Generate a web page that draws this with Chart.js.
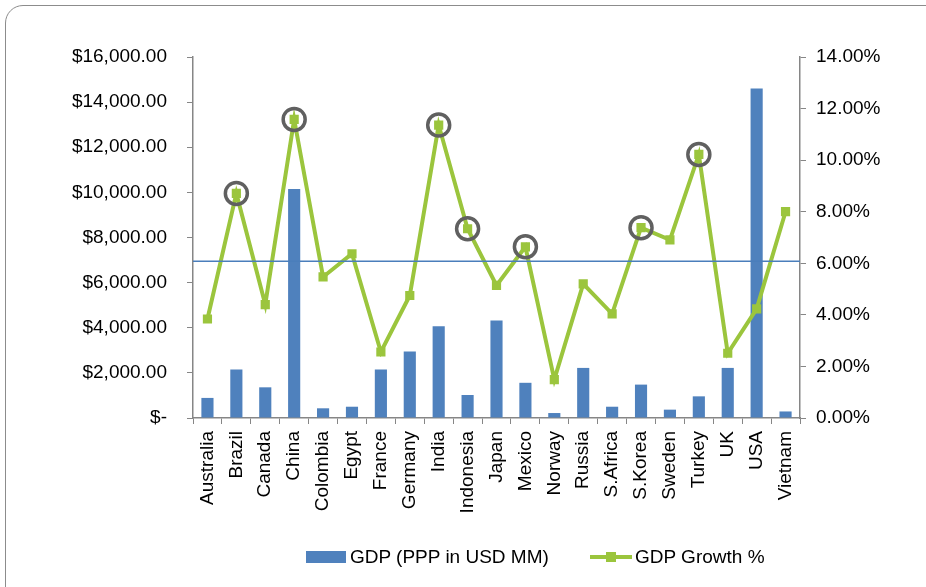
<!DOCTYPE html>
<html>
<head>
<meta charset="utf-8">
<script src="https://cdn.jsdelivr.net/npm/chart.js@4"></script>
<style>
  body { margin: 0; background: #fff; font-family: "Liberation Sans", Arial, sans-serif; }
  #wrap { position: relative; width: 926px; height: 587px; overflow: hidden; }
  #frame { position: absolute; left: 5px; top: 5px; width: 950px; height: 620px;
           border: 1.5px solid #8c8c8c; border-radius: 18px; box-sizing: border-box; }
  canvas { position: absolute; left: 0; top: 0; }
  .lg { position: absolute; font-size: 19px; color: #000; line-height: 20px; }
</style>
</head>
<body>
<div id="wrap">
  <div id="frame"></div>
  <canvas id="myChart" width="926" height="587"></canvas>
  <div style="position:absolute;left:306px;top:551px;width:40px;height:12px;background:#4F81BD"></div>
  <div class="lg" style="left:350px;top:547px">GDP (PPP in USD MM)</div>
  <div style="position:absolute;left:590px;top:555px;width:42px;height:4px;background:#9BC53D"></div>
  <div style="position:absolute;left:606px;top:552px;width:10px;height:10px;background:#9BC53D"></div>
  <div class="lg" style="left:635px;top:547px">GDP Growth %</div>
</div>
<script>
const countries = ['Australia','Brazil','Canada','China','Colombia','Egypt','France','Germany','India','Indonesia','Japan',
  'Mexico','Norway','Russia','S.Africa','S.Korea','Sweden','Turkey','UK','USA','Vietnam'];
const gdp = [890, 2150, 1360, 10150, 430, 500, 2150, 2950, 4070, 1020, 4320,
  1560, 220, 2220, 500, 1480, 370, 960, 2220, 14600, 290];
const growth = [3.84, 8.71, 4.40, 11.58, 5.47, 6.37, 2.56, 4.75, 11.36, 7.34, 5.14,
  6.64, 1.49, 5.20, 4.04, 7.38, 6.91, 10.22, 2.51, 4.23, 8.00];
const circled = ['Brazil','China','India','Indonesia','Mexico','S.Korea','Turkey'];
const avgGrowth = 6.08;

const circleData = countries.map((c, i) => circled.includes(c) ? growth[i] : null);

// horizontal reference line across the plot, on the right axis
const avgLinePlugin = {
  id: 'avgLine',
  afterDatasetsDraw(chart) {
    const {ctx, chartArea} = chart;
    const y = chart.scales.y1.getPixelForValue(avgGrowth);
    ctx.save();
    ctx.strokeStyle = '#4A7EBB';
    ctx.lineWidth = 1.5;
    ctx.beginPath();
    ctx.moveTo(chartArea.left, y);
    ctx.lineTo(chartArea.right, y);
    ctx.stroke();
    ctx.restore();
  }
};

const axisColor = '#868686';
const tickFont = {family: '"Liberation Sans", Arial, sans-serif', size: 19};

const ctx = document.getElementById('myChart').getContext('2d');
const chart = new Chart(ctx, {
  type: 'bar',
  data: {
    labels: countries,
    datasets: [
      {
        type: 'line',
        label: 'circles',
        data: circleData,
        yAxisID: 'y1',
        showLine: false,
        pointRadius: 11,
        pointHoverRadius: 11,
        pointBorderWidth: 3.5,
        pointBorderColor: '#606060',
        pointBackgroundColor: 'rgba(0,0,0,0)',
        order: 0
      },
      {
        type: 'line',
        label: 'GDP Growth %',
        data: growth,
        yAxisID: 'y1',
        borderColor: '#9BC53D',
        backgroundColor: '#9BC53D',
        borderWidth: 4,
        pointStyle: 'rect',
        pointRadius: 6.5,
        pointBorderWidth: 0,
        tension: 0,
        order: 1
      },
      {
        label: 'GDP (PPP in USD MM)',
        data: gdp,
        yAxisID: 'y',
        backgroundColor: '#4F81BD',
        barPercentage: 0.42,
        categoryPercentage: 1,
        order: 2
      }
    ]
  },
  options: {
    responsive: false,
    animation: false,
    layout: {padding: {top: 57, left: 0, right: 0, bottom: 0}},
    plugins: {legend: {display: false}, tooltip: {enabled: false}},
    scales: {
      x: {
        grid: {drawOnChartArea: false, tickLength: 6, color: axisColor},
        border: {color: axisColor, width: 1.5},
        ticks: {font: tickFont, color: '#000', maxRotation: 90, minRotation: 90, padding: 7, autoSkip: false},
        afterFit(s) { s.height = 169; }
      },
      y: {
        position: 'left',
        min: 0, max: 16000,
        grid: {drawOnChartArea: false, tickLength: 6, color: axisColor},
        border: {color: axisColor, width: 1.5},
        ticks: {
          stepSize: 2000, font: tickFont, color: '#000', padding: 20,
          callback: v => v === 0 ? '$-' : '$' + v.toLocaleString('en-US', {minimumFractionDigits: 2})
        },
        afterFit(s) { s.width = 193; }
      },
      y1: {
        position: 'right',
        min: 0, max: 14,
        grid: {drawOnChartArea: false, tickLength: 6, color: axisColor},
        border: {color: axisColor, width: 1.5},
        ticks: {stepSize: 2, font: tickFont, color: '#000', padding: 10, callback: v => v.toFixed(2) + '%'},
        afterFit(s) { s.width = 126; }
      }
    }
  },
  plugins: [avgLinePlugin]
});
</script>
</body>
</html>
